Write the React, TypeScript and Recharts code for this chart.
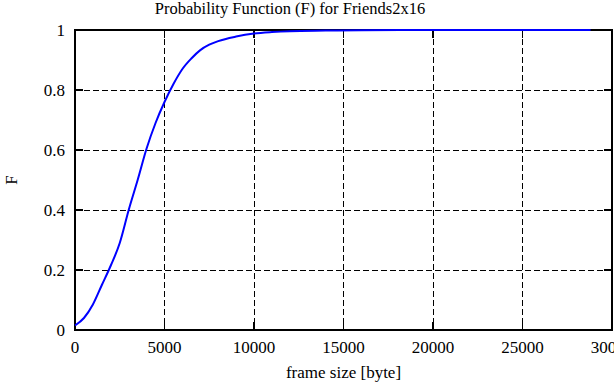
import {
  CartesianGrid,
  Line,
  LineChart,
  ReferenceArea,
  ReferenceLine,
  XAxis,
  YAxis,
} from "recharts";

const frameSize = [
  0, 500, 1000, 1500, 2000, 2500, 3000, 3500, 4000, 4500, 5000, 5500, 6000,
  6500, 7000, 7500, 8000, 9000, 10000, 11000, 12000, 14000, 16000, 20000,
  25000, 28800,
];
const probability = [
  0.015, 0.04, 0.085, 0.15, 0.215, 0.29, 0.4, 0.5, 0.605, 0.69, 0.76, 0.82,
  0.87, 0.905, 0.933, 0.951, 0.963, 0.978, 0.988, 0.993, 0.996, 0.998, 0.9995,
  1, 1, 1,
];
const xTicks = [0, 5000, 10000, 15000, 20000, 25000, 30000];
const yTicks = [0, 0.2, 0.4, 0.6, 0.8, 1];

const data = frameSize.map((x, i) => ({ x, f: probability[i] }));

const FONT = "'Liberation Serif', 'DejaVu Serif', serif";
const X_MAX = 30000;
// tick mark length expressed in axis units (about 8px)
const TICK_X = 450;
const TICK_Y = 0.027;

const BottomTick = (props: any) => {
  const { x, y, payload } = props;
  return (
    <text x={x} y={y + 23} textAnchor="middle" fontSize={17} fontFamily={FONT} fill="#000">
      {payload.value}
    </text>
  );
};

const LeftTick = (props: any) => {
  const { x, y, payload } = props;
  return (
    <text x={x - 10} y={y + 6} textAnchor="end" fontSize={17} fontFamily={FONT} fill="#000">
      {payload.value}
    </text>
  );
};

export default function App() {
  return (
    <div
      style={{
        position: "absolute",
        left: 0,
        top: 0,
        width: 614,
        height: 385,
        background: "#fff",
        shapeRendering: "crispEdges",
      }}
    >
      <div
        style={{
          position: "absolute",
          top: -1,
          left: 0,
          width: 580,
          textAlign: "center",
          fontFamily: FONT,
          fontSize: 16.5,
        }}
      >
        Probability Function (F) for Friends2x16
      </div>
      <LineChart
        width={614}
        height={385}
        data={data}
        margin={{ top: 30, right: 2, left: 0, bottom: 0 }}
      >
        <CartesianGrid stroke="#000" strokeDasharray="6 3" strokeWidth={1} />
        <XAxis
          dataKey="x"
          type="number"
          domain={[0, X_MAX]}
          ticks={xTicks}
          height={55}
          tickSize={0}
          tickMargin={0}
          tickLine={false}
          axisLine={false}
          tick={<BottomTick />}
          interval={0}
        />
        <YAxis
          type="number"
          domain={[0, 1]}
          ticks={yTicks}
          width={75}
          tickSize={0}
          tickMargin={0}
          tickLine={false}
          axisLine={false}
          tick={<LeftTick />}
          interval={0}
        />
        {xTicks.map((t) => (
          <ReferenceLine
            key={`xb${t}`}
            segment={[
              { x: t, y: 0 },
              { x: t, y: TICK_Y },
            ]}
            stroke="#000"
            strokeWidth={1.5}
          />
        ))}
        {xTicks.map((t) => (
          <ReferenceLine
            key={`xt${t}`}
            segment={[
              { x: t, y: 1 },
              { x: t, y: 1 - TICK_Y },
            ]}
            stroke="#000"
            strokeWidth={1.5}
          />
        ))}
        {yTicks.map((t) => (
          <ReferenceLine
            key={`yl${t}`}
            segment={[
              { x: 0, y: t },
              { x: TICK_X, y: t },
            ]}
            stroke="#000"
            strokeWidth={1.5}
          />
        ))}
        {yTicks.map((t) => (
          <ReferenceLine
            key={`yr${t}`}
            segment={[
              { x: X_MAX, y: t },
              { x: X_MAX - TICK_X, y: t },
            ]}
            stroke="#000"
            strokeWidth={1.5}
          />
        ))}
        <ReferenceArea
          x1={0}
          x2={X_MAX}
          y1={0}
          y2={1}
          fill="none"
          fillOpacity={0}
          stroke="#000"
          strokeWidth={2}
        />
        <Line
          dataKey="f"
          type="monotone"
          stroke="#0000ff"
          strokeWidth={2}
          dot={false}
          isAnimationActive={false}
          style={{ shapeRendering: "auto" }}
        />
      </LineChart>
      <div
        style={{
          position: "absolute",
          top: 363,
          left: 75,
          width: 537,
          textAlign: "center",
          fontFamily: FONT,
          fontSize: 17,
        }}
      >
        frame size [byte]
      </div>
      <div
        style={{
          position: "absolute",
          left: 12,
          top: 180,
          fontFamily: FONT,
          fontSize: 17,
          transform: "translate(-50%, -50%) rotate(-90deg)",
        }}
      >
        F
      </div>
    </div>
  );
}
